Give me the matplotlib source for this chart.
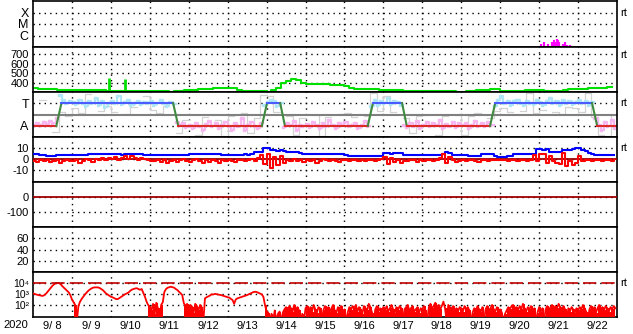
import numpy as np
import matplotlib.pyplot as plt
from matplotlib.transforms import blended_transform_factory

plt.rcParams['font.family'] = ['Liberation Sans', 'DejaVu Sans']
plt.rcParams['axes.unicode_minus'] = False

# time axis: days since 2020-09-08 00:00
day_labels = ["9/ 8", "9/ 9", "9/10", "9/11", "9/12", "9/13", "9/14", "9/15",
              "9/16", "9/17", "9/18", "9/19", "9/20", "9/21", "9/22"]
year_label = "2020"

# X-ray flare bars (day, flux W/m2)
xray_t = [13.05, 13.13, 13.22, 13.32, 13.37, 13.41, 13.45, 13.49, 13.52,
          13.62, 13.67, 13.71, 13.79, 13.84]
xray_flux = [1.9e-7, 2.5e-7, 1.9e-7, 2.5e-7, 3.7e-7, 3.0e-7, 5.0e-7, 4.4e-7,
             2.5e-7, 1.8e-7, 2.5e-7, 1.5e-7, 1.5e-7, 1.3e-7]

# solar wind speed, 3-hourly (km/s)
speed = [338, 336, 335, 334, 328, 326, 325, 326,
         324, 323, 322, 320, 321, 318, 316, 315,
         314, 313, 315, 312, 311, 310, 311, 310,
         309, 308, 307, 306, 305, 309, 312, 316,
         320, 324, 330, 333, 336, 339, 341, 343,
         346, 340, 322, 315, 311, 313, 314, 308,
         303, 325, 339, 395, 420, 435, 430, 400,
         385, 386, 384, 385, 383, 378, 375, 370,
         360, 345, 332, 330, 332, 331, 329, 326,
         324, 322, 321, 318, 314, 312, 311, 310,
         310, 309, 311, 310, 308, 307, 306, 305,
         304, 306, 315, 321, 323, 325, 327, 329,
         312, 306, 311, 310, 312, 316, 318, 317,
         316, 315, 314, 314, 313, 318, 327, 329,
         333, 337, 339, 341, 342, 343, 348, 358]
spike_t = [1.95, 2.36]
spike_v = [448, 437]

# IMF sector (T=270, A=90) corner points
sector_t = [0, 0.6, 0.73, 3.6, 3.73, 5.88, 6.01, 6.35, 6.47, 8.6, 8.73,
            9.48, 9.6, 11.74, 11.87, 14.36, 14.49, 15]
sector_v = [90, 90, 270, 270, 90, 90, 270, 270, 90, 90, 270, 270, 90, 90,
            270, 270, 90, 90]

# IMF phi angle, 2-hourly (deg)
phi = [100, 115, 95, 120, 105, 130, 110, 150, 340, 300, 275, 290,
       280, 265, 300, 275, 250, 290, 270, 310, 260, 285, 240, 275,
       290, 270, 330, 265, 280, 300, 255, 275, 290, 265, 280, 270,
       285, 260, 275, 300, 270, 250, 280, 265, 120, 95, 110, 80,
       100, 70, 115, 90, 60, 105, 130, 85, 110, 75, 95, 120,
       90, 60, 110, 85, 150, 60, 100, 120, 90, 70, 115, 260,
       280, 300, 290, 250, 270, 80, 110, 95, 130, 60, 100, 85,
       105, 80, 120, 95, 70, 115, 90, 140, 100, 75, 110, 95,
       120, 85, 100, 110, 75, 95, 130, 90, 250, 300, 260, 290,
       275, 310, 265, 290, 280, 255, 100, 80, 115, 90, 130, 70,
       100, 120, 85, 110, 95, 140, 75, 105, 90, 120, 80, 110,
       95, 115, 70, 100, 130, 85, 110, 90, 120, 100, 250, 300,
       330, 275, 290, 260, 285, 300, 270, 255, 290, 275, 265, 300,
       280, 260, 290, 310, 270, 285, 255, 300, 275, 290, 265, 280,
       300, 270, 290, 260, 280, 150, 100, 60, 120, 90, 140, 70]
nan = np.nan
phi_gray = [nan, 300, nan, 40, 200, 170,
            230, 190, 345, nan, 210, 250,
            200, nan, 185, 240, nan, 330,
            215, 195, 250, nan, 30, 140,
            nan, 20, 160, nan, 140, 10,
            170, nan, 190, 30, 150, 340,
            330, 200, nan, 170, 20, 150,
            nan, 175, 10, 160, nan, 185,
            190, 160, nan, 170, 350, 210,
            330, 200, nan, 150, 30, 165,
            180, nan, 20, 165, nan, 175,
            15, 170, 190, nan, 150, 205,
            230, 200, nan, 210, 350, 190,
            215, nan, 200, 185, 240, 230,
            200, 350, 160, 20, 10, 170]

# IMF Bt and Bz, 2-hourly (nT)
bt = [4.3, 4.3, 4.0, 3.5, 3.0, 3.0, 3.2, 3.5, 3.6, 3.6, 3.8, 4.0,
      4.0, 3.6, 3.6, 3.8, 4.0, 4.3, 4.5, 4.5, 4.5, 4.3, 4.5, 4.5,
      4.5, 4.5, 4.3, 4.0, 4.3, 4.5, 4.5, 4.8, 4.5, 4.3, 4.0, 3.8,
      3.6, 3.6, 3.8, 3.6, 3.6, 3.5, 3.6, 3.6, 3.8, 3.6, 3.6, 4.0,
      4.3, 4.5, 4.5, 4.8, 4.5, 4.5, 4.3, 4.5, 4.5, 4.3, 4.0, 3.8,
      3.6, 3.6, 3.8, 3.6, 4.0, 4.3, 4.0, 4.3, 6.6, 6.4, 6.6, 9.7,
      9.7, 8.0, 8.2, 7.5, 8.0, 7.8, 6.6, 6.6, 6.6, 6.2, 6.0, 5.0,
      4.5, 4.5, 4.8, 4.3, 4.5, 4.5, 4.8, 4.5, 4.3, 4.5, 4.5, 4.3,
      4.0, 3.2, 2.7, 2.7, 2.8, 2.7, 3.0, 2.8, 2.7, 2.7, 3.0, 3.2,
      5.2, 5.4, 5.0, 5.2, 5.4, 5.2, 4.0, 3.6, 3.6, 3.8, 3.6, 3.6,
      3.6, 3.8, 3.6, 3.6, 3.5, 3.8, 4.5, 6.6, 5.5, 4.0, 3.6, 3.6,
      3.6, 3.5, 3.0, 3.0, 3.2, 3.0, 4.3, 4.3, 4.5, 4.3, 2.5, 2.0,
      2.0, 2.0, 2.7, 2.7, 4.5, 4.5, 4.5, 4.3, 4.5, 4.5, 4.8, 8.8,
      8.8, 8.5, 8.8, 6.6, 6.6, 6.8, 6.6, 8.2, 8.2, 8.5, 9.0, 9.7,
      9.7, 8.5, 7.0, 5.7, 5.0, 4.0, 3.6, 3.6, 3.5, 3.6, 3.8, 3.6]
bz = [-1.5, -2.5, -1.0, -2.0, -0.5, -2.5, -1.5, -1.0, -3.5, -2.0, -0.5, -1.5,
      -2.0, -0.5, -3.0, -1.5, 0.5, -1.0, -2.5, 0.5, -1.0, 1.0, -0.5, 1.5,
      0.5, 2.0, -1.0, 1.5, 3.0, 0.5, 2.5, 1.0, -1.0, 1.5, 0.5, -0.5,
      -1.5, -2.0, -0.5, -2.5, -1.0, -3.5, -2.0, -0.5, -2.5, -1.0, 0.5, -1.5,
      -2.5, -1.0, 0.5, -2.0, -3.0, -1.0, -2.5, -0.5, -1.5, -3.0, -1.0, -2.0,
      -0.5, -1.5, -2.5, -1.0, -0.5, -2.0, -1.0, 0.5, -1.5, 1.0, 3.5, -4.0,
      4.5, -7.5, 2.0, -5.0, 3.0, -3.5, -1.0, -2.0, 0.5, -1.5, -0.5, -2.5,
      -1.0, -2.0, -0.5, -3.0, -1.5, 0.5, -1.0, -2.0, -0.5, -1.5, -2.5, -1.0,
      -0.5, -1.5, -0.5, -1.0, -1.5, -0.5, -2.0, -1.0, -0.5, -1.5, -1.0, 0.5,
      2.0, -4.5, 1.5, -2.5, -1.0, -3.0, -1.5, -2.0, -0.5, -1.0, -2.5, -1.0,
      -1.5, -0.5, -1.0, -2.0, -0.5, 1.0, 5.0, -3.5, 2.0, -1.0, -2.5, -1.5,
      -0.5, -2.0, -1.0, -0.5, -1.5, -2.5, -0.5, -1.0, -2.0, -0.5, -1.0, -0.5,
      -1.0, -0.5, -1.5, -0.5, -1.0, -2.0, -1.0, -0.5, -1.5, -1.0, 3.5, -2.0,
      5.0, 4.5, -3.0, 3.0, -1.5, -3.5, -4.5, 6.0, -6.0, -2.0, -5.5, -3.0,
      2.5, -2.0, -1.0, -0.5, -1.5, -1.0, -0.5, -2.0, -0.5, -1.0, -1.5, -0.5]

# electron flux, hourly, log10 values
flux_log10 = [
    3.06, 3.0, 2.95, 2.91, 2.88, 2.85, 2.82, 2.9, 3.02, 3.2, 3.38, 3.55, 3.75, 3.88, 3.97, 4.0, 3.98, 3.9, 3.72, 3.58, 3.45, 3.3, 3.15, 2.9,
    2.5, 2.25, 2.0, 0.5, 1.9, 2.3, 2.55, 2.75, 2.95, 3.12, 3.28, 3.4, 3.5, 3.57, 3.6, 3.6, 3.6, 3.55, 3.45, 3.36, 3.2, 3.05, 2.95, 2.85,
    2.75, 2.7, 2.62, 2.55, 2.52, 2.6, 2.7, 2.8, 2.9, 3.0, 3.06, 3.15, 3.3, 3.4, 3.45, 3.5, 3.52, 3.45, 3.38, 3.45, 3.1, 2.75, 2.3, 2.0,
    1.85, 1.5, 2.1, 1.2, 2.2, 1.7, 0.5, 2.0, 2.25, 3.2, 3.45, 3.57, 3.62, 3.66, 3.62, 3.57, 3.45, 3.36, 3.2, 3.06, 2.9, 2.15, 1.9, 2.1,
    1.6, 2.0, 1.85, 1.3, 2.1, 1.9, 1.5, 2.0, 1.8, 0.5, 2.6, 2.7, 2.78, 2.85, 2.97, 2.95, 3.0, 2.99, 2.95, 2.92, 2.9, 2.85, 2.8, 2.75,
    2.7, 2.67, 2.55, 2.45, 2.1, 2.5, 2.6, 2.65, 2.7, 2.75, 2.8, 2.85, 2.9, 2.97, 3.05, 3.1, 3.18, 3.2, 3.17, 3.1, 3.02, 2.97, 2.75, 2.0,
    1.4, 1.3, 0.5, 1.2, 0.5, 1.5, 0.5, 1.2, 1.4, 0.5, 1.3, 1.6, 1.8, 1.5, 1.9, 1.7, 1.4, 2.0, 1.6, 1.8, 1.5, 0.5, 1.2, 0.5,
    1.7, 1.9, 1.5, 1.8, 1.4, 2.0, 1.6, 1.3, 1.8, 1.7, 0.5, 1.5, 1.9, 1.6, 1.8, 1.4, 1.7, 2.0, 1.5, 1.3, 1.8, 1.6, 1.9, 1.4,
    1.6, 0.5, 1.3, 1.8, 1.5, 1.9, 1.7, 2.0, 1.4, 1.8, 1.6, 1.2, 1.9, 1.7, 1.5, 2.1, 1.8, 1.3, 0.5, 1.6, 1.9, 1.4, 1.7, 1.5,
    1.8, 1.5, 1.9, 1.4, 1.7, 2.0, 1.6, 1.3, 1.8, 1.5, 1.9, 1.7, 0.5, 1.6, 1.8, 2.0, 1.5, 1.7, 1.9, 1.4, 1.6, 1.8, 1.3, 1.7,
    1.6, 1.9, 1.5, 0.5, 1.8, 2.1, 1.7, 1.9, 2.2, 1.8, 2.0, 1.6, 1.9, 2.3, 1.7, 0.5, 2.0, 1.8, 1.6, 1.9, 1.5, 1.7, 1.4, 1.8,
    1.7, 1.4, 1.9, 1.6, 1.8, 1.5, 0.5, 1.3, 1.7, 1.5, 1.9, 1.6, 1.4, 1.8, 0.5, 1.6, 1.9, 1.5, 1.7, 2.0, 1.6, 1.4, 1.8, 1.5,
    1.6, 1.3, 0.5, 1.2, 1.5, 1.8, 1.6, 1.9, 2.0, 1.7, 1.8, 1.5, 1.9, 1.6, 2.1, 1.7, 1.4, 1.8, 1.6, 1.9, 1.5, 1.7, 0.5, 1.3,
    1.8, 1.4, 1.7, 0.5, 1.6, 1.9, 1.5, 1.8, 2.0, 1.6, 1.9, 1.7, 2.1, 1.8, 1.5, 1.9, 1.6, 0.5, 1.7, 1.4, 1.8, 1.6, 1.3, 1.7,
    1.5, 1.8, 1.6, 2.0, 1.7, 1.4, 0.5, 1.6, 1.9, 1.5, 1.8, 1.3, 1.7, 2.0, 1.6, 1.8, 1.5, 1.9, 1.7, 1.4, 1.8, 1.6, 1.9, 1.7]
flux_ticks = [1e2, 1e3, 1e4]
flux_tick_labels = ["10\u00b2", "10\u00b3", "10\u2074"]


def times(series, per_day):
    return np.arange(len(series)) / per_day


W, H = 633, 334
fig = plt.figure(figsize=(W / 100, H / 100), dpi=100)
edges = [1, 47, 92, 137, 182, 227, 272, 317]
axes = []
for top, bot in zip(edges[:-1], edges[1:]):
    ax = fig.add_axes([33 / W, 1 - bot / H, 584 / W, (bot - top) / H])
    ax.set_xlim(0, 15)
    ax.set_xticks(np.arange(1, 15))
    ax.tick_params(length=0, labelsize=8, pad=3, labelbottom=False)
    ax.grid(True, color='k', ls=(0, (1, 3)), lw=1)
    for s in ax.spines.values():
        s.set_linewidth(1.2)
    axes.append(ax)


def rt(ax, y):
    tr = blended_transform_factory(ax.transAxes, ax.transData)
    ax.text(1.006, y, 'rt', transform=tr, fontsize=8, ha='left', va='center')


# 1: X-ray
ax = axes[0]
ax.set_yscale('log')
ax.set_ylim(1e-7, 1e-3)
ax.set_yticks([1e-6, 1e-5, 1e-4], labels=['C', 'M', 'X'], fontsize=9)
ax.yaxis.set_minor_locator(plt.NullLocator())
ax.vlines(xray_t, 1e-8, xray_flux, color='#ff00ff', lw=1.6)
rt(ax, 1e-4)

# 2: solar wind speed
ax = axes[1]
ax.set_ylim(300, 780)
ax.set_yticks([400, 500, 600, 700])
ax.plot(times(speed, 8), speed, color='#00e000', lw=1.5, drawstyle='steps-post')
ax.vlines(spike_t, 300, spike_v, color='#00e000', lw=2)
rt(ax, 700)

# 3: IMF sector
ax = axes[2]
ax.set_ylim(0, 360)
ax.set_yticks([90, 270], labels=['A', 'T'], fontsize=9)
ph = np.array(phi, float)
tp = times(phi, 12)
ax.plot(times(phi_gray, 6), phi_gray, color='#d2d2d2', lw=0.9, drawstyle='steps-post')
ax.plot(tp, np.where(ph >= 180, ph, np.nan), color='#aee6f6', lw=1.6,
        drawstyle='steps-post', marker='s', ms=1.5)
ax.plot(tp, np.where(ph < 180, ph, np.nan), color='#f6b6f0', lw=1.6,
        drawstyle='steps-post', marker='s', ms=1.5)
ax.axhline(180, color='#808080', lw=1.5)
for i in range(len(sector_t) - 1):
    v0, v1 = sector_v[i], sector_v[i + 1]
    if v0 == v1:
        c = '#4a5cff' if v0 == 270 else '#dd2a2a'
    else:
        c = '#3f8a3f'
    ax.plot(sector_t[i:i + 2], sector_v[i:i + 2], color=c, lw=1.5)
rt(ax, 270)

# 4: IMF Bt / Bz
ax = axes[3]
ax.set_ylim(-20.5, 20)
ax.set_yticks([10, 0, -10])
ax.axhline(0, color='#a00000', lw=1.3, zorder=3)
ax.plot(times(bt, 12), bt, color='#0000ff', lw=1.5, drawstyle='steps-post', zorder=4)
ax.plot(times(bz, 12), bz, color='#ff0000', lw=1.5, drawstyle='steps-post', zorder=5)
rt(ax, 10)

# 5: Dst (no data)
ax = axes[4]
ax.set_ylim(-200, 100)
ax.set_yticks([0, -100])
ax.axhline(0, color='#a00000', lw=1.3, zorder=3)

# 6: (no data)
ax = axes[5]
ax.set_ylim(0, 80)
ax.set_yticks([20, 40, 60])

# 7: electron flux
ax = axes[6]
ax.set_yscale('log')
ax.set_ylim(8, 1e5)
ax.set_yticks(flux_ticks, labels=flux_tick_labels, fontsize=7.5)
ax.yaxis.set_minor_locator(plt.NullLocator())
lf = np.array(flux_log10)
fl = 10 ** lf
tf = times(flux_log10, 24)
ax.plot(tf, fl, color='#ff0000', lw=1.3, zorder=3)
# low, noisy stretches look solid
ax.fill_between(tf, fl, 1, where=lf < 2.3, step='post', color='#ff0000', lw=0,
                zorder=3)
ax.axhline(1e4, color='#c00000', ls=(0, (8, 3)), lw=1.2, zorder=4)
ax.set_xticks(np.arange(15) + 0.5, labels=day_labels, minor=True)
ax.tick_params(which='minor', length=0, labelsize=8, pad=3)
ax.tick_params(labelbottom=False)
ax.tick_params(which='minor', labelbottom=True)
rt(ax, 1e4)

fig.text(16 / W, 1 - 325.5 / H, year_label, ha='center', va='center', fontsize=8)

fig.savefig('out.png', dpi=100)
